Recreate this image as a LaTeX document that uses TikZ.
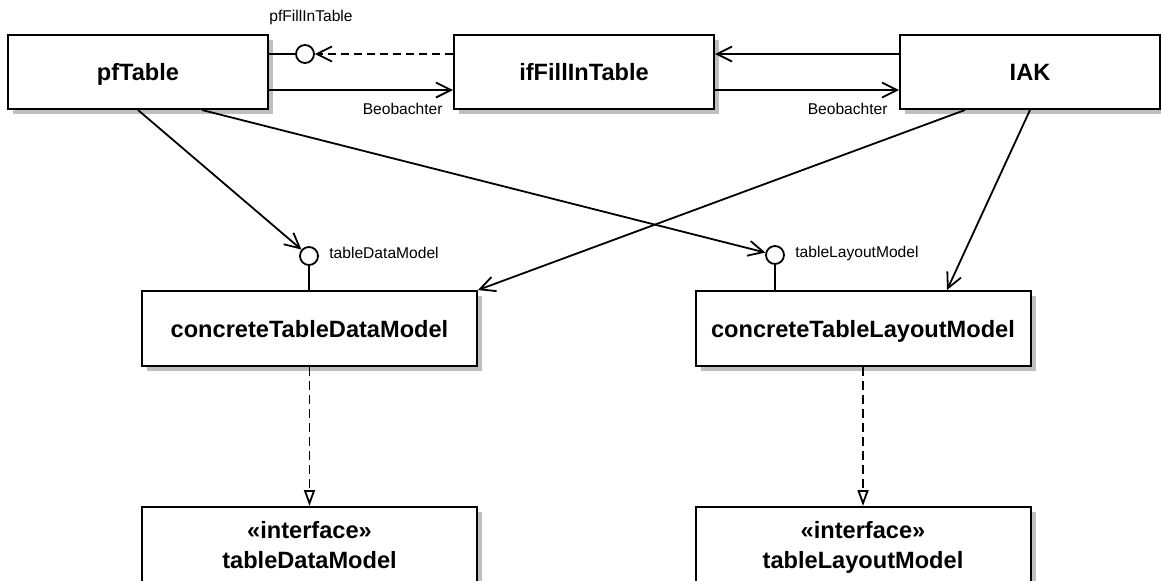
\documentclass[tikz,border=0pt]{standalone}
\usepackage{fontspec}
\setmainfont{Liberation Sans}
\usetikzlibrary{arrows.meta,shadows}

\begin{document}
\begin{tikzpicture}[
  x=0.5pt, y=-0.5pt,
  cls/.style={draw, line width=1pt, fill=white, minimum width=130pt, minimum height=37pt, align=center,
    font=\fontsize{11.8}{15}\selectfont\bfseries, text depth=0pt,
    drop shadow={shadow xshift=2.5pt, shadow yshift=-2.5pt, fill=black!25, opacity=1}},
  wide/.style={cls, minimum width=167.5pt, minimum height=37.5pt},
  iface/.style={draw, circle, line width=.9pt, fill=white, minimum size=9pt, inner sep=0pt},
  lbl/.style={inner sep=0pt, font=\fontsize{7.8}{9}\selectfont},
  assoc/.style={-{Straight Barb[length=7.5pt, width=7.5pt]}, line width=.9pt},
  dep/.style={assoc, dash pattern=on 4pt off 2.5pt},
  real/.style={-{Triangle[open, length=8pt, width=5.5pt]}, line width=.9pt, dash pattern=on 4.5pt off 2.5pt}
]
\clip (0,0) rectangle (1161,580);

% top row
\node[cls] (pft) at (138,72) {pfTable};
\node[cls] (iff) at (584,72) {ifFillInTable};
\node[cls] (iak) at (1030,72) {IAK};

\node[iface] (pfi) at (305,54) {};
\node[lbl] (pfiL) at (311,17) {pfFillInTable};
\draw[line width=.9pt] (pft.east |- pfi) -- (pfi);
\draw[dep] (iff.west |- pfi) -- (pfi);

\draw[assoc] ([yshift=-9pt]pft.east) -- ([yshift=-9pt]iff.west);
\node[lbl, anchor=east] (b1) at (443,109) {Beobachter};
\draw[assoc] ([yshift=9pt]iak.west) -- ([yshift=9pt]iff.east);
\draw[assoc] ([yshift=-9pt]iff.east) -- ([yshift=-9pt]iak.west);
\node[lbl, anchor=east] (b2) at (888,109) {Beobachter};

% models
\node[wide] (ctdm) at (309.5,328.5) {concreteTableDataModel};
\node[wide] (ctlm) at (863,328.5) {concreteTableLayoutModel};
\node[wide] (itdm) at (309.5,544.5) {«interface»\\tableDataModel};
\node[wide] (itlm) at (863,544.5) {«interface»\\tableLayoutModel};

\node[iface] (tdmI) at (309,256) {};
\node[lbl, anchor=west] (tdmL) at (329,253) {tableDataModel};
\node[iface] (tlmI) at (775,255) {};
\node[lbl, anchor=west] (tlmL) at (795,253) {tableLayoutModel};
\draw[line width=.9pt] (tdmI) -- (tdmI |- ctdm.north);
\draw[line width=.9pt] (tlmI) -- (tlmI |- ctlm.north);

\draw[assoc] (pft.south) -- (tdmI);
\draw[assoc] ([xshift=32pt]pft.south) -- (tlmI);
\draw[assoc] ([xshift=-32.5pt]iak.south) -- (ctdm.north east);
\draw[assoc] (iak.south) -- ([xshift=42pt]ctlm.north);

\draw[real] (ctdm.south) -- (itdm.north);
\draw[real] (ctlm.south) -- (itlm.north);
\end{tikzpicture}
\end{document}
